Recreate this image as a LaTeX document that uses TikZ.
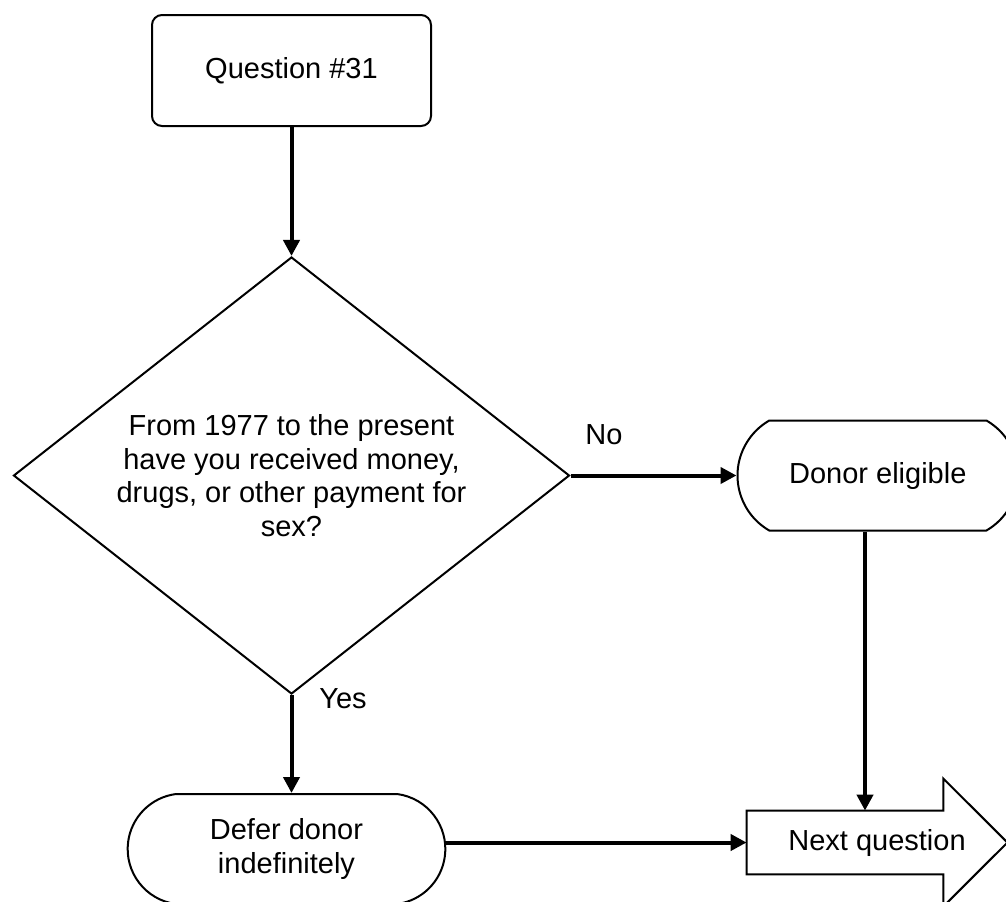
\documentclass[tikz,border=0pt]{standalone}
\usepackage{fontspec}
\setmainfont{Liberation Sans}
\usetikzlibrary{arrows.meta,positioning,shapes.geometric,shapes.misc}

\begin{document}
\begin{tikzpicture}[
		x=0.5pt, y=-0.5pt,
		outline/.style={draw=black, line width=1pt},
		txt/.style={font=\fontsize{14.5}{16.75}\selectfont, align=center},
		qbox/.style={outline, txt, rectangle, rounded corners=5pt,
			minimum width=139.5pt, minimum height=55.5pt},
		decision/.style={outline, txt, diamond, aspect=1.27, inner sep=0pt,
			minimum width=278pt, minimum height=218.5pt},
		terminal/.style={outline, txt, rounded rectangle, minimum height=55pt},
		arrow/.style={-{Triangle[length=8pt,width=8pt]}, line width=2pt},
		lbl/.style={txt, inner sep=0pt}
	]
	\useasboundingbox (0,0) rectangle (1006,901);
	
	\node[qbox] (q31) at (291.5,70.5) {Question \#31};
	\node[decision, below=64.5pt of q31] (dec)
	{From 1977 to the present\\
		have you received money,\\
		drugs, or other payment for\\
		sex?};
	\node[terminal, rounded rectangle arc length=120, minimum width=147pt,
		right=83pt of dec] (donor) {Donor eligible};
	\node[txt, inner sep=0pt, minimum width=130pt, minimum height=31.5pt]
	(next) at (877,842.5) {Next question};
	\node[terminal, rounded rectangle arc length=165, minimum width=165.5pt]
	(defer) at (286.5,849) {Defer donor\\indefinitely};
	
	% arrow shaped end box
	\draw[outline] (next.north west) -- ([xshift=-32pt]next.north east)
	-- ++(0,16pt) -- (next.east) -- ([xshift=-32pt,yshift=-16pt]next.south east)
	-- ++(0,16pt) -- (next.south west) -- cycle;
	
	\draw[arrow] (q31) -- (dec);
	\draw[arrow] (dec.east) -- (dec.east -| donor.west);
	\draw[arrow] (dec.south) -- (dec.south |- defer.north);
	\draw[arrow] ([xshift=-6pt]next.north |- donor.south) -- ([xshift=-6pt]next.north);
	\draw[arrow] (defer.east |- next) -- (next.west);
	
	\node[lbl] (no) at (604,434.5) {No};
	\node[lbl] (yes) at (343,698.5) {Yes};
\end{tikzpicture}
\end{document}
